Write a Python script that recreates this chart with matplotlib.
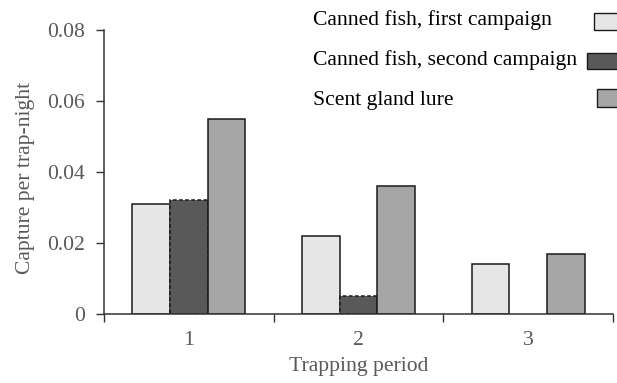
import matplotlib
matplotlib.use("Agg")
import matplotlib.pyplot as plt
from matplotlib.patches import Rectangle
import numpy as np

periods = ["1", "2", "3"]
series_names = ["Canned fish, first campaign", "Canned fish, second campaign", "Scent gland lure"]
first_campaign = [0.031, 0.022, 0.014]
second_campaign = [0.032, 0.005, 0.0]
scent_gland = [0.055, 0.036, 0.017]
yticks = [0, 0.02, 0.04, 0.06, 0.08]
ytick_labels = ["0", "0.02", "0.04", "0.06", "0.08"]

colors = ["#e6e6e6", "#595959", "#a6a6a6"]
edge_styles = ["solid", (0, (2.5, 1.5)), "solid"]

plt.rcParams["font.family"] = ["Liberation Serif", "DejaVu Serif"]
FS = 15.6

fig = plt.figure(figsize=(6.17, 3.83), dpi=100)
ax = fig.add_axes([104 / 617, 1 - 314 / 383, (613 - 104) / 617, (314 - 30) / 383])

x = np.arange(1, len(periods) + 1)
w = 0.222
data = [first_campaign, second_campaign, scent_gland]
for i, (vals, c, ls) in enumerate(zip(data, colors, edge_styles)):
    pos = x + (i - 1) * w
    for p, v in zip(pos, vals):
        if v > 0:
            ax.bar(p, v, width=w, color=c, edgecolor="#1a1a1a", linewidth=1.1,
                   linestyle=ls, zorder=2)

ax.set_xlim(0.5, 3.5)
ax.set_ylim(0, 0.08)
ax.set_yticks(yticks)
ax.set_yticklabels(ytick_labels)
ax.set_xticks([0.5, 1.5, 2.5, 3.5])
ax.set_xticklabels([])
ax.set_xticks(x, minor=True)
ax.set_xticklabels(periods, minor=True)
ax.tick_params(axis="x", which="major", direction="out", length=6, width=1, color="#333333")
ax.tick_params(axis="x", which="minor", length=0, pad=12, labelsize=FS, labelcolor="#595959")
ax.tick_params(axis="y", direction="out", length=6, width=1, color="#333333",
               labelsize=FS, labelcolor="#595959", pad=8)

for s in ["top", "right"]:
    ax.spines[s].set_visible(False)
for s in ["left", "bottom"]:
    ax.spines[s].set_color("#333333")
    ax.spines[s].set_linewidth(1.1)

ax.set_ylabel("Capture per trap-night", fontsize=FS, color="#595959")
ax.yaxis.set_label_coords(-0.135, 0.479)
ax.set_xlabel("Trapping period", fontsize=FS, color="#595959", labelpad=5)

# legend (table-like: text left-aligned, swatch column at right)
text_y = [20, 60, 101]
box_x = [594, 587, 597]
box_y = [13, 53, 89]
box_h = [17, 16, 18]
for name, c, ty, bx, by, bh in zip(series_names, colors, text_y, box_x, box_y, box_h):
    fig.text(313 / 617, 1 - ty / 383, name, fontsize=FS, color="black",
             ha="left", va="center")
    fig.patches.append(Rectangle((bx / 617, 1 - (by + bh) / 383), 40 / 617, bh / 383,
                                 transform=fig.transFigure, facecolor=c,
                                 edgecolor="#1a1a1a", linewidth=1.0))

fig.savefig("out.png", dpi=100)
